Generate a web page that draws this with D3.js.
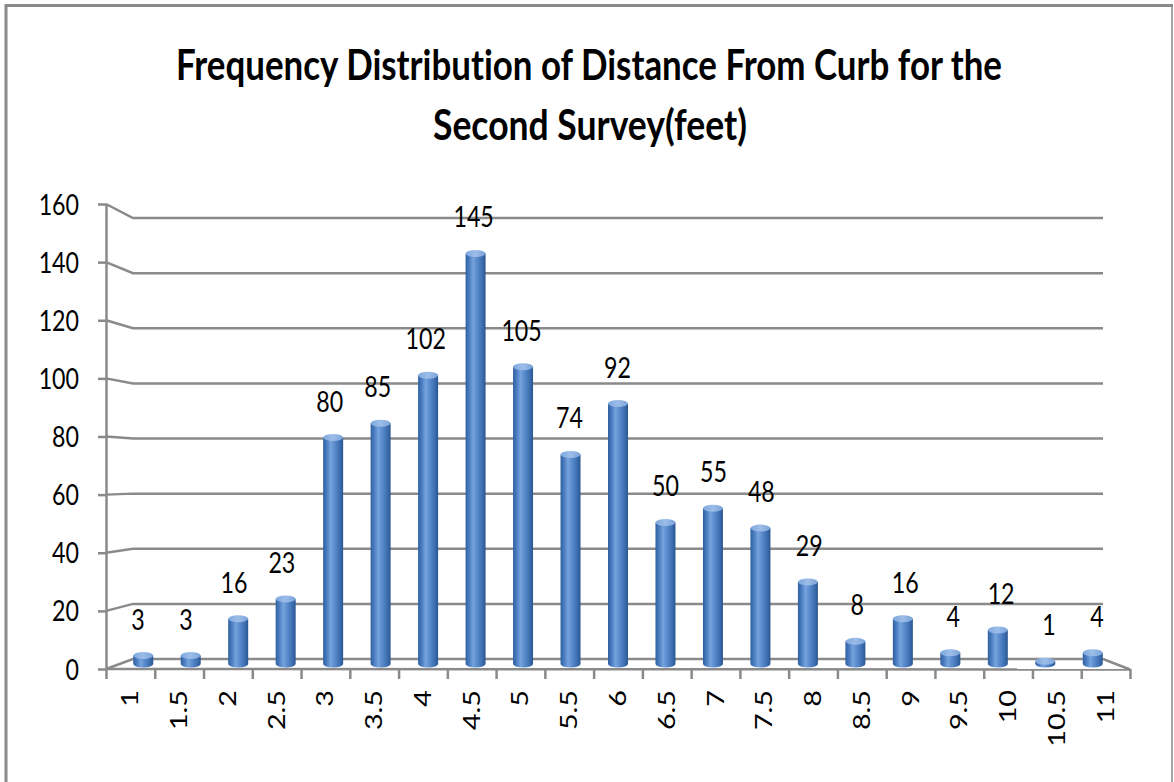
<!DOCTYPE html>
<html>
<head>
<meta charset="utf-8">
<script src="https://cdn.jsdelivr.net/npm/d3@7"></script>
<style>
  html, body { margin: 0; padding: 0; background: #fff; }
  svg { display: block; }
  text {
    font-family: Lato, "Liberation Sans", sans-serif; fill: #000;
    font-variant-ligatures: none; font-feature-settings: "liga" 0, "clig" 0;
  }
</style>
</head>
<body>
<svg id="chart" width="1174" height="782"></svg>
<script>
// Distance from curb (feet) and how many observations fell in each bin
const categories = ["1","1.5","2","2.5","3","3.5","4","4.5","5","5.5","6","6.5","7","7.5","8","8.5","9","9.5","10","10.5","11"];
const counts = [3, 3, 16, 23, 80, 85, 102, 145, 105, 74, 92, 50, 55, 48, 29, 8, 16, 4, 12, 1, 4];
const yTicks = [0, 20, 40, 60, 80, 100, 120, 140, 160];
const titleLines = ["Frequency Distribution of Distance From Curb for the", "Second Survey(feet)"];

const svg = d3.select("#chart");
const gridColor = "#8a8a8a";
const sx = 0.8;          // horizontal squeeze applied to upright text
const rotStretch = 1.25; // stretch along the reading direction of rotated text

// 3-D box: front plane (axis), back wall, and the middle plane where the cylinders stand
const xFront = d3.scaleBand().domain(categories).range([106, 1130]);
const xBack  = d3.scaleBand().domain(categories).range([133, 1103]);
const xMid   = d3.scaleBand().domain(categories).range([119.5, 1116.5]);
const xLab   = d3.scaleBand().domain(categories).range([114, 1121]);
const yFront = d3.scaleLinear().domain([0, 160]).range([669, 204]);
const yBack  = d3.scaleLinear().domain([0, 160]).range([659, 218]);
const yMid   = d3.scaleLinear().domain([0, 160]).range([664, 211]);

// Chart-area border
const border = svg.append("g").attr("stroke", "#8a8a8a").attr("fill", "none");
border.append("line").attr("x1", 5).attr("x2", 1173).attr("y1", 5.5).attr("y2", 5.5).attr("stroke-width", 3);
border.append("line").attr("x1", 6).attr("x2", 6).attr("y1", 4).attr("y2", 782).attr("stroke-width", 3);
border.append("line").attr("x1", 1172).attr("x2", 1172).attr("y1", 4).attr("y2", 782).attr("stroke-width", 1.5);

// Title
const title = svg.append("g");
title.append("text")
  .attr("x", 176).attr("y", 80)
  .attr("font-size", 42).attr("font-weight", 700)
  .attr("textLength", 826).attr("lengthAdjust", "spacingAndGlyphs")
  .text(titleLines[0]);
title.append("text")
  .attr("x", 433).attr("y", 140)
  .attr("font-size", 42).attr("font-weight", 700)
  .attr("textLength", 314).attr("lengthAdjust", "spacingAndGlyphs")
  .text(titleLines[1]);

// Gridlines: slanted on the side wall, then flat across the back wall
const xFrontEdge = xFront.range()[0];
const xBackL = xBack.range()[0], xBackR = xBack.range()[1];
svg.append("g").attr("class", "grid")
  .selectAll("path").data(yTicks).join("path")
  .attr("d", v => d3.line()([[xFrontEdge, yFront(v)], [xBackL, yBack(v)], [xBackR, yBack(v)]]))
  .attr("fill", "none").attr("stroke", gridColor).attr("stroke-width", 2.5);

// Floor: front edge and right edge
const floor = svg.append("g").attr("fill", "none").attr("stroke", gridColor).attr("stroke-width", 2.5);
floor.append("path").attr("d", d3.line()([[xFrontEdge, yFront(0)], [xFront.range()[1], yFront(0) + 0.5]]));
floor.append("path").attr("d", d3.line()([[xBackR, yBack(0)], [xFront.range()[1], yFront(0) + 0.5]]));

// Cylinder shading
const defs = svg.append("defs");
const grad = defs.append("linearGradient").attr("id", "cyl").attr("x1", "0%").attr("x2", "100%").attr("y1", "0%").attr("y2", "0%");
[["0%", "#2f5f9f"], ["18%", "#4a7cc0"], ["38%", "#76a3dc"], ["55%", "#5d8ecf"], ["85%", "#3b6cae"], ["100%", "#2a568f"]]
  .forEach(([o, c]) => grad.append("stop").attr("offset", o).attr("stop-color", c));
const gradTop = defs.append("linearGradient").attr("id", "cylTop").attr("x1", "0%").attr("x2", "100%");
[["0%", "#7fa8de"], ["50%", "#9cbde8"], ["100%", "#7aa2d8"]]
  .forEach(([o, c]) => gradTop.append("stop").attr("offset", o).attr("stop-color", c));

const r = 10, ry = 3.5;
const bars = svg.append("g").attr("class", "bars")
  .selectAll("g").data(categories.map((c, i) => ({ c, v: counts[i] }))).join("g");
bars.append("path")
  .attr("d", d => {
    const cx = xMid(d.c) + xMid.bandwidth() / 2;
    const top = yMid(d.v), bot = yMid(0);
    return `M${cx - r},${top} L${cx - r},${bot} A${r},${ry} 0 0 0 ${cx + r},${bot} L${cx + r},${top} Z`;
  })
  .attr("fill", "url(#cyl)");
bars.append("ellipse")
  .attr("cx", d => xMid(d.c) + xMid.bandwidth() / 2)
  .attr("cy", d => yMid(d.v))
  .attr("rx", r).attr("ry", ry)
  .attr("fill", "url(#cylTop)");

// Value labels above each cylinder
svg.append("g").attr("class", "values")
  .selectAll("text").data(categories.map((c, i) => ({ c, v: counts[i] }))).join("text")
  .attr("transform", d => `translate(${xLab(d.c) + xLab.bandwidth() / 2},${yMid(d.v) - 26}) scale(${sx},1)`)
  .attr("text-anchor", "middle")
  .attr("font-size", 29)
  .text(d => d.v);

// Y axis on the front-left edge
const yAxis = svg.append("g")
  .attr("transform", `translate(${xFrontEdge},0)`)
  .call(d3.axisLeft(yFront).tickValues(yTicks).tickSize(8).tickSizeOuter(0));
yAxis.select(".domain").attr("stroke", gridColor).attr("stroke-width", 2.5);
yAxis.selectAll(".tick line").attr("stroke", gridColor).attr("stroke-width", 2.5);
yAxis.selectAll(".tick text")
  .attr("x", null).attr("dy", null)
  .attr("transform", `translate(-27,10) scale(${sx},1)`)
  .attr("font-size", 29)
  .attr("font-family", "Lato, 'Liberation Sans', sans-serif")
  .attr("fill", "#000");

// X axis ticks sit between categories on the front floor edge
const xEdge = d3.scaleLinear().domain([0, categories.length]).range(xFront.range());
const xTicks = svg.append("g")
  .attr("transform", `translate(0,${yFront(0)})`)
  .call(d3.axisBottom(xEdge).tickValues(d3.range(categories.length + 1)).tickFormat("").tickSize(10).tickSizeOuter(0));
xTicks.select(".domain").remove();
xTicks.selectAll(".tick line").attr("stroke", gridColor).attr("stroke-width", 2.5);

// Rotated category labels
const xAxis = svg.append("g")
  .attr("transform", `translate(0,${yFront(0)})`)
  .call(d3.axisBottom(xFront).tickSize(0));
xAxis.select(".domain").remove();
xAxis.selectAll(".tick text")
  .attr("y", null).attr("dy", null)
  .attr("text-anchor", "end")
  .attr("transform", `translate(8,21) rotate(-90) scale(${rotStretch},1)`)
  .attr("font-size", 23)
  .attr("font-family", "Lato, 'Liberation Sans', sans-serif")
  .attr("fill", "#000");
</script>
</body>
</html>
